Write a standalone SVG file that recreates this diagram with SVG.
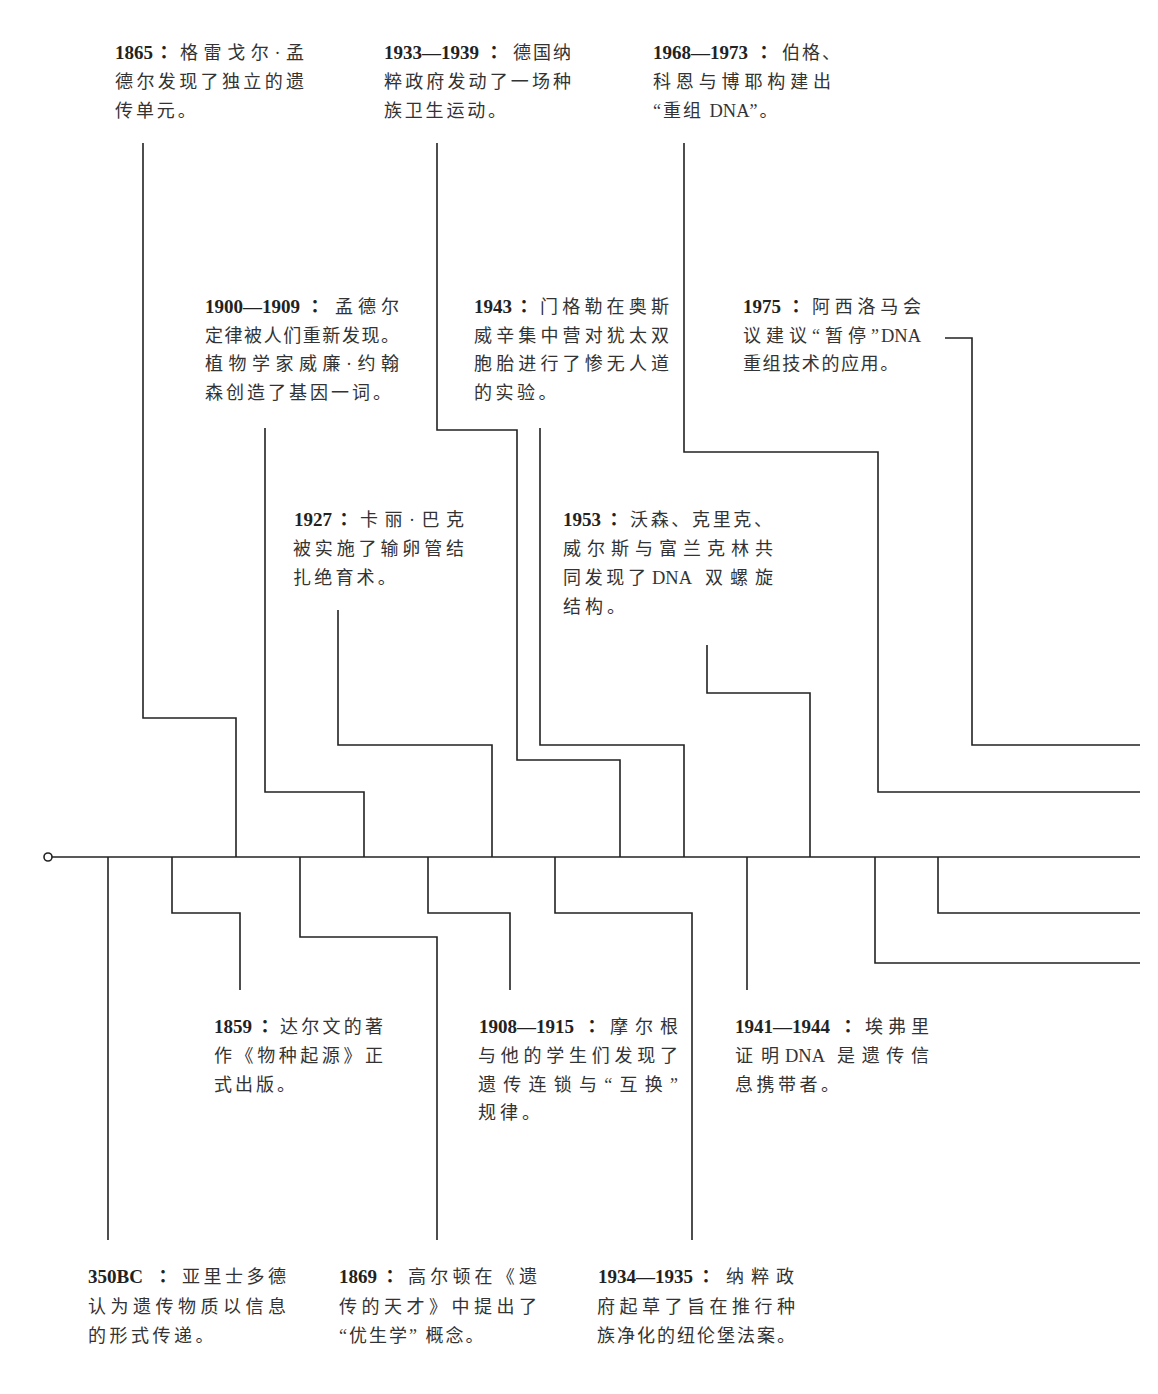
<svg xmlns="http://www.w3.org/2000/svg" width="1158" height="1394" viewBox="0 0 1158 1394">
<style>
.t{font-family:"Liberation Serif","Noto Sans CJK SC",serif;font-size:18px;fill:#333}
.n{font-family:"Liberation Serif",serif;font-size:19px;font-weight:bold;fill:#222}
.k{font-family:"Noto Sans CJK TC","Noto Sans CJK SC",sans-serif;font-size:18px;font-weight:bold;fill:#222;text-anchor:middle}
.l{font-family:"Liberation Serif",serif;font-size:18.5px;fill:#333}
.c{fill:none;stroke:#222;stroke-width:1.6}
</style>
<rect width="1158" height="1394" fill="#fff"/>
<g id="connectors">
<path class="c" d="M52,857 H1140"/>
<circle cx="48" cy="857" r="4" fill="#fff" stroke="#222" stroke-width="1.6"/>
<path class="c" d="M143,143 V718 H236 V857"/>
<path class="c" d="M265,428 V792 H364 V857"/>
<path class="c" d="M338,610 V745 H492 V857"/>
<path class="c" d="M437,143 V430 H517 V760 H620 V857"/>
<path class="c" d="M540,428 V745 H684 V857"/>
<path class="c" d="M707,645 V693 H810 V857"/>
<path class="c" d="M684,143 V452 H878 V792 H1140"/>
<path class="c" d="M945,338 H972 V745 H1140"/>
<path class="c" d="M108,857 V1240"/>
<path class="c" d="M172,857 V913 H240 V990"/>
<path class="c" d="M300,857 V937 H437 V1240"/>
<path class="c" d="M428,857 V913 H510 V990"/>
<path class="c" d="M555,857 V913 H692 V1240"/>
<path class="c" d="M747,857 V990"/>
<path class="c" d="M875,857 V963 H1140"/>
<path class="c" d="M938,857 V913 H1140"/>
</g>
<g id="n1865">
<text class="n" x="115" y="59">1865</text><text class="k" x="164" y="59">：</text>
<text class="t" x="180" y="59" textLength="124" lengthAdjust="spacing">格雷戈尔·孟</text>
<text class="t" x="115" y="88" textLength="189" lengthAdjust="spacing">德尔发现了独立的遗</text>
<text class="t" x="115" y="117" letter-spacing="2.9">传单元。</text>
</g>
<g id="n1933">
<text class="n" x="384" y="59">1933—1939</text><text class="k" x="494" y="59">：</text>
<text class="t" x="513" y="59" textLength="58" lengthAdjust="spacing">德国纳</text>
<text class="t" x="384" y="88" textLength="187" lengthAdjust="spacing">粹政府发动了一场种</text>
<text class="t" x="384" y="117" letter-spacing="2.8">族卫生运动。</text>
</g>
<g id="n1968">
<text class="n" x="653" y="59">1968—1973</text><text class="k" x="764" y="59">：</text>
<text class="t" x="782" y="59" textLength="58" lengthAdjust="spacing">伯格、</text>
<text class="t" x="653" y="88" textLength="178" lengthAdjust="spacing">科恩与博耶构建出</text>
<text class="t" x="653" y="117" letter-spacing="2">“重组 <tspan class="l" letter-spacing="0">DNA</tspan>”。</text>
</g>
<g id="n1900">
<text class="n" x="205" y="313">1900—1909</text><text class="k" x="315" y="313">：</text>
<text class="t" x="335" y="313" textLength="64" lengthAdjust="spacing">孟德尔</text>
<text class="t" x="205" y="342" textLength="194" lengthAdjust="spacing">定律被人们重新发现。</text>
<text class="t" x="205" y="370" textLength="194" lengthAdjust="spacing">植物学家威廉·约翰</text>
<text class="t" x="205" y="399" letter-spacing="3">森创造了基因一词。</text>
</g>
<g id="n1943">
<text class="n" x="474" y="313">1943</text><text class="k" x="524" y="313">：</text>
<text class="t" x="540" y="313" textLength="129" lengthAdjust="spacing">门格勒在奥斯</text>
<text class="t" x="474" y="342" textLength="195" lengthAdjust="spacing">威辛集中营对犹太双</text>
<text class="t" x="474" y="370" textLength="195" lengthAdjust="spacing">胞胎进行了惨无人道</text>
<text class="t" x="474" y="399" letter-spacing="3.5">的实验。</text>
</g>
<g id="n1975">
<text class="n" x="743" y="313">1975</text><text class="k" x="796" y="313">：</text>
<text class="t" x="812" y="313" textLength="109" lengthAdjust="spacing">阿西洛马会</text>
<text class="t" x="743" y="342" textLength="136" lengthAdjust="spacing">议建议“暂停”</text><text class="l" x="881" y="342">DNA</text>
<text class="t" x="743" y="370" letter-spacing="1.6">重组技术的应用。</text>
</g>
<g id="n1927">
<text class="n" x="294" y="526">1927</text><text class="k" x="344" y="526">：</text>
<text class="t" x="360" y="526" textLength="104" lengthAdjust="spacing">卡丽·巴克</text>
<text class="t" x="293" y="555" textLength="171" lengthAdjust="spacing">被实施了输卵管结</text>
<text class="t" x="293" y="584" letter-spacing="3.2">扎绝育术。</text>
</g>
<g id="n1953">
<text class="n" x="563" y="526">1953</text><text class="k" x="614" y="526">：</text>
<text class="t" x="630" y="526" textLength="142" lengthAdjust="spacing">沃森、克里克、</text>
<text class="t" x="563" y="555" textLength="210" lengthAdjust="spacing">威尔斯与富兰克林共</text>
<text class="t" x="563" y="584" textLength="83" lengthAdjust="spacing">同发现了</text><text class="l" x="652" y="584">DNA</text>
<text class="t" x="705" y="584" textLength="68" lengthAdjust="spacing">双螺旋</text>
<text class="t" x="563" y="613" letter-spacing="4">结构。</text>
</g>
<g id="n1859">
<text class="n" x="214" y="1033">1859</text><text class="k" x="265" y="1033">：</text>
<text class="t" x="280" y="1033" textLength="103" lengthAdjust="spacing">达尔文的著</text>
<text class="t" x="214" y="1062" textLength="169" lengthAdjust="spacing">作《物种起源》正</text>
<text class="t" x="214" y="1091" letter-spacing="3">式出版。</text>
</g>
<g id="n1908">
<text class="n" x="479" y="1033">1908—1915</text><text class="k" x="592" y="1033">：</text>
<text class="t" x="610" y="1033" textLength="68" lengthAdjust="spacing">摩尔根</text>
<text class="t" x="478" y="1062" textLength="200" lengthAdjust="spacing">与他的学生们发现了</text>
<text class="t" x="478" y="1091" textLength="200" lengthAdjust="spacing">遗传连锁与“互换”</text>
<text class="t" x="478" y="1119" letter-spacing="4">规律。</text>
</g>
<g id="n1941">
<text class="n" x="735" y="1033">1941—1944</text><text class="k" x="848" y="1033">：</text>
<text class="t" x="865" y="1033" textLength="64" lengthAdjust="spacing">埃弗里</text>
<text class="t" x="735" y="1062" textLength="44" lengthAdjust="spacing">证明</text><text class="l" x="785" y="1062">DNA</text>
<text class="t" x="837" y="1062" textLength="92" lengthAdjust="spacing">是遗传信</text>
<text class="t" x="735" y="1091" letter-spacing="3.5">息携带者。</text>
</g>
<g id="n350">
<text class="n" x="88" y="1283">350BC</text><text class="k" x="163" y="1283">：</text>
<text class="t" x="182" y="1283" textLength="104" lengthAdjust="spacing">亚里士多德</text>
<text class="t" x="88" y="1313" textLength="198" lengthAdjust="spacing">认为遗传物质以信息</text>
<text class="t" x="88" y="1342" letter-spacing="3.5">的形式传递。</text>
</g>
<g id="n1869">
<text class="n" x="339" y="1283">1869</text><text class="k" x="390" y="1283">：</text>
<text class="t" x="408" y="1283" textLength="129" lengthAdjust="spacing">高尔顿在《遗</text>
<text class="t" x="339" y="1313" textLength="198" lengthAdjust="spacing">传的天才》中提出了</text>
<text class="t" x="339" y="1342" letter-spacing="2">“优生学” 概念。</text>
</g>
<g id="n1934">
<text class="n" x="598" y="1283">1934—1935</text><text class="k" x="706" y="1283">：</text>
<text class="t" x="726" y="1283" textLength="68" lengthAdjust="spacing">纳粹政</text>
<text class="t" x="597" y="1313" textLength="198" lengthAdjust="spacing">府起草了旨在推行种</text>
<text class="t" x="597" y="1342" textLength="198" lengthAdjust="spacing">族净化的纽伦堡法案。</text>
</g>
</svg>
